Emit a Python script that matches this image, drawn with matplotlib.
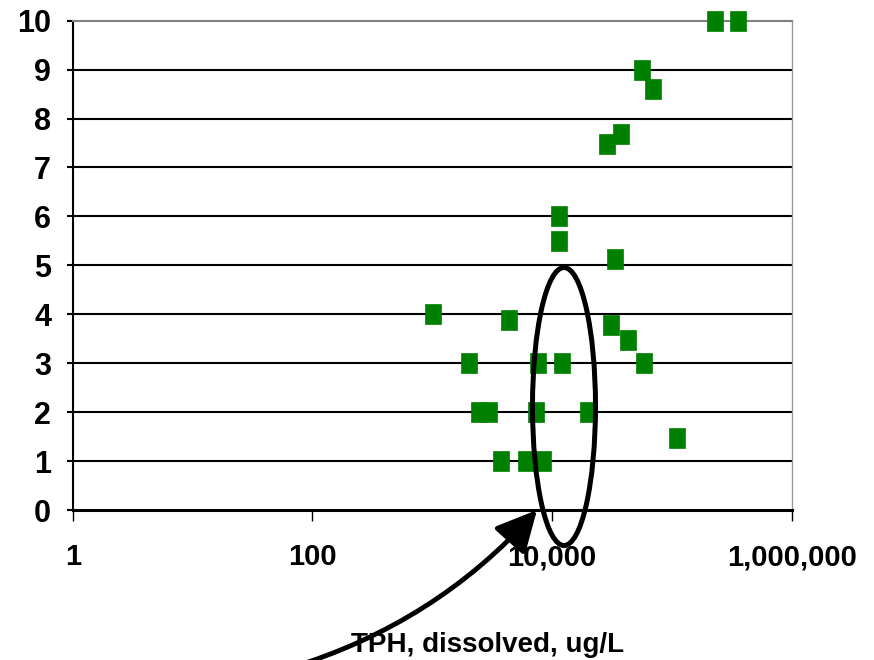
import matplotlib
matplotlib.use('Agg')
import matplotlib.pyplot as plt
from matplotlib import font_manager
from matplotlib.patches import Ellipse
from matplotlib.ticker import FixedLocator, NullLocator
import numpy as np

names = set(f.name for f in font_manager.fontManager.ttflist)
fam = 'Liberation Sans Narrow' if 'Liberation Sans Narrow' in names else 'Liberation Sans'
plt.rcParams['font.family'] = [fam, 'DejaVu Sans']
plt.rcParams['font.weight'] = 'bold'

# TPH dissolved (ug/L) vs depth-ish value
tph = [1010, 2020, 2450, 2960, 3730, 4370, 6040, 7590, 7330, 8360,
       11400, 11400, 12000, 19900, 28900, 37400, 33700, 30900, 42700,
       56000, 69600, 57900, 110000, 226000, 355000]
val = [4.0, 3.0, 2.0, 2.0, 1.0, 3.88, 1.0, 3.0, 2.0, 1.0,
       6.0, 5.5, 3.0, 2.0, 7.48, 7.69, 5.12, 3.78, 3.48,
       9.0, 8.6, 3.0, 1.47, 10.0, 10.0]
xticks = [1, 100, 10000, 1000000]
xticklabels = ['1', '100', '10,000', '1,000,000']
yticks = list(range(0, 11))

fig = plt.figure(figsize=(8.74, 6.6), dpi=100)
ax = fig.add_axes([72.7/874, 1-510/660, (792-72.7)/874, (510-20.7)/660])

ax.set_xscale('log')
ax.set_xlim(1, 1e6)
ax.set_ylim(0, 10)

for yv in yticks[1:-1]:
    ax.axhline(yv, color='black', lw=1.5, zorder=1)

rect = [(-0.4, -0.5), (0.4, -0.5), (0.4, 0.5), (-0.4, 0.5), (-0.4, -0.5)]
ax.plot(tph, val, ls='none', marker=rect, ms=13.7, mfc='#008000',
        mec='#008000', mew=0.5, clip_on=False, zorder=3)

ax.xaxis.set_major_locator(FixedLocator(xticks))
ax.xaxis.set_minor_locator(NullLocator())
ax.set_xticklabels(xticklabels)
ax.set_yticks(yticks)
ax.tick_params(axis='x', direction='out', length=8, width=1, pad=16, labelsize=21)
ax.tick_params(axis='y', direction='out', length=4.5, width=1.5, pad=11, labelsize=22)

ax.spines['top'].set_color('#808080')
ax.spines['top'].set_linewidth(1.5)
ax.spines['right'].set_color('#999999')
ax.spines['right'].set_linewidth(1)
ax.spines['left'].set_linewidth(1.5)
ax.spines['bottom'].set_linewidth(2.2)

fig.text(488/874, 8/660, 'TPH, dissolved, ug/L', ha='center', va='baseline',
         fontsize=20, fontweight='bold')

ell = Ellipse((5.64, 2.535), 0.63, 2.78, transform=fig.dpi_scale_trans,
              fill=False, ec='black', lw=3.6, zorder=5)
fig.patches.append(ell)

ax.annotate('', xy=(537, 150), xycoords='figure pixels',
            xytext=(290, -8), textcoords='figure pixels',
            arrowprops=dict(arrowstyle='-|>,head_length=1.0,head_width=0.5',
                            mutation_scale=25, color='black', lw=3.5,
                            connectionstyle='arc3,rad=0.14',
                            shrinkA=0, shrinkB=0),
            annotation_clip=False)

fig.savefig('out.png', dpi=100)
